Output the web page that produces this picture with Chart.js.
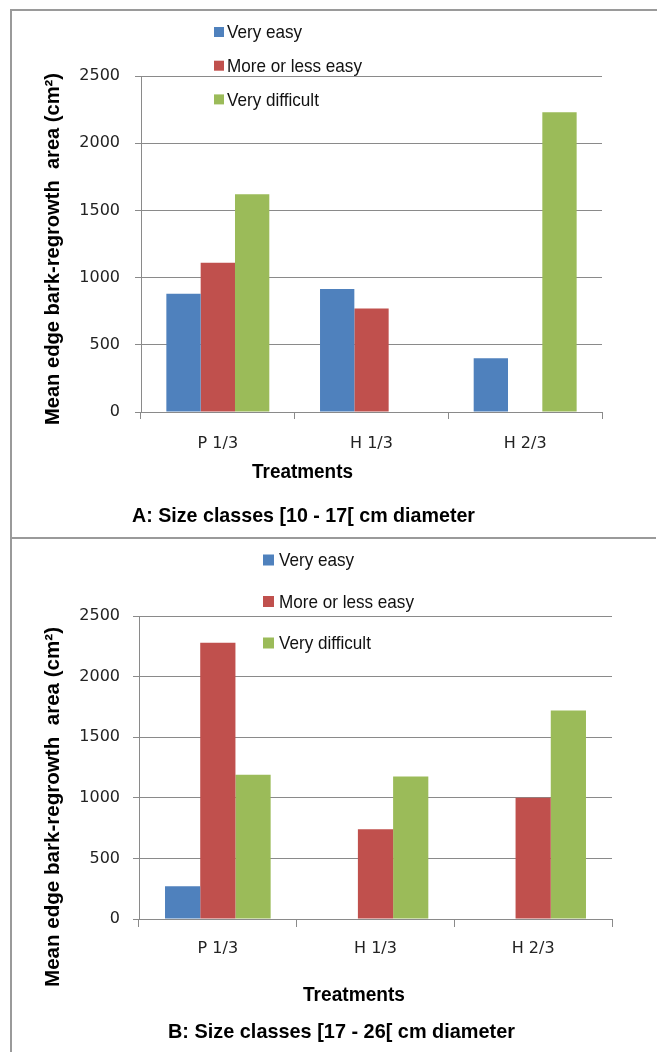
<!DOCTYPE html>
<html>
<head>
<meta charset="utf-8">
<title>Mean edge bark-regrowth area by treatment</title>
<script src="https://cdn.jsdelivr.net/npm/chart.js@4.4.0/dist/chart.umd.min.js"></script>
<style>
  html, body { margin: 0; padding: 0; background: #fff; }
  body { width: 657px; height: 1052px; position: relative; overflow: hidden; }
  canvas { position: absolute; left: 0; }
  #chartA { top: 0; }
  #chartB { top: 539px; }
  .rule { position: absolute; background: #9a9a9a; }
</style>
</head>
<body>
<canvas id="chartA" width="657" height="537"></canvas>
<canvas id="chartB" width="657" height="513"></canvas>
<div class="rule" style="left:10px;top:9px;width:2px;height:1043px"></div>
<div class="rule" style="left:10px;top:9px;width:647px;height:2px"></div>
<div class="rule" style="left:10px;top:537px;width:646px;height:2px"></div>
<script>
// Treatments on the x axis
const categories = ['P 1/3', 'H 1/3', 'H 2/3'];
// Debarking difficulty classes
const seriesNames = ['Very easy', 'More or less easy', 'Very difficult'];
const seriesColors = ['#4F81BD', '#C0504D', '#9BBB59'];
// Y axis ticks (cm²)
const yTicks = [0, 500, 1000, 1500, 2000, 2500];

// A: size classes [10 - 17[ cm diameter
const classA_veryEasy      = [880, 915, 400];
const classA_moreOrLess    = [1110, 770, null];
const classA_veryDifficult = [1620, null, 2230];

// B: size classes [17 - 26[ cm diameter
const classB_veryEasy      = [270, null, null];
const classB_moreOrLess    = [2280, 740, 1000];
const classB_veryDifficult = [1190, 1175, 1720];

const yTitle = 'Mean edge bark-regrowth  area (cm\u00B2)';
const xTitle = 'Treatments';

const GRID = '#8a8a8a';
const BOLD = 'bold 21px "Liberation Sans", Arial, sans-serif';

// Draws the vertical legend and the free-standing titles of a panel
const panelText = {
  id: 'panelText',
  afterDraw(chart, args, opts) {
    const ctx = chart.ctx;
    const lg = opts.legend;
    ctx.save();
    chart.data.datasets.forEach((ds, i) => {
      const cy = lg.y + i * lg.rowGap;
      ctx.fillStyle = ds.backgroundColor;
      ctx.fillRect(lg.x, cy - lg.box / 2, lg.box, lg.box);
      ctx.fillStyle = '#111';
      ctx.font = '19px "Liberation Sans", Arial, sans-serif';
      ctx.textAlign = 'left';
      ctx.textBaseline = 'middle';
      // slightly condensed lettering
      const w = ctx.measureText(ds.label).width * 0.9;
      ctx.fillText(ds.label, lg.x + lg.textGap, cy + 1, w);
    });
    opts.texts.forEach(t => {
      ctx.save();
      ctx.translate(t.x, t.y);
      if (t.rotate) ctx.rotate(t.rotate);
      ctx.font = t.font || BOLD;
      ctx.fillStyle = '#000';
      ctx.textAlign = 'center';
      ctx.textBaseline = 'alphabetic';
      ctx.fillText(t.text, 0, 0, t.maxWidth);
      ctx.restore();
    });
    ctx.restore();
  }
};

function makeDatasets(a, b, c) {
  return [a, b, c].map((vals, i) => ({
    label: seriesNames[i],
    data: vals,
    backgroundColor: seriesColors[i],
    borderWidth: 0,
    categoryPercentage: 0.67,
    barPercentage: 1.0
  }));
}

function makeChart(id, datasets, geo) {
  return new Chart(document.getElementById(id), {
    type: 'bar',
    data: { labels: categories, datasets },
    plugins: [panelText],
    options: {
      responsive: false,
      animation: false,
      devicePixelRatio: 1,
      layout: { padding: { left: 0, top: geo.top, right: geo.right, bottom: 0 } },
      plugins: {
        legend: { display: false },
        tooltip: { enabled: false },
        panelText: { legend: geo.legend, texts: geo.texts }
      },
      scales: {
        x: {
          afterFit: s => { s.height = geo.xHeight; },
          grid: { offset: true, drawOnChartArea: false, drawTicks: true, tickLength: geo.xTick, color: GRID },
          border: { display: true, color: GRID, width: 1 },
          ticks: { padding: geo.xPad, color: '#222', font: { family: 'DejaVu Sans', size: 16 } }
        },
        y: {
          min: yTicks[0],
          max: yTicks[yTicks.length - 1],
          afterFit: s => { s.width = geo.yWidth; },
          afterBuildTicks: s => { s.ticks = yTicks.map(v => ({ value: v })); },
          grid: { color: GRID, tickLength: 6, drawTicks: true },
          border: { display: true, color: GRID, width: 1 },
          ticks: {
            padding: geo.yPad,
            color: '#222',
            font: { family: 'DejaVu Sans', size: 16 },
            callback: v => String(v)
          }
        }
      }
    }
  });
}

makeChart('chartA', makeDatasets(classA_veryEasy, classA_moreOrLess, classA_veryDifficult), {
  top: 76, right: 55, xHeight: 125, yWidth: 141, xTick: 7, xPad: 15, yPad: 15,
  legend: { x: 214, y: 32, rowGap: 33.7, box: 10, textGap: 13 },
  texts: [
    { text: yTitle, x: 59, y: 249, rotate: -Math.PI / 2, maxWidth: 352 },
    { text: xTitle, x: 302.5, y: 478, font: 'bold 20px "Liberation Sans", Arial, sans-serif', maxWidth: 101 },
    { text: 'A: Size classes [10 - 17[ cm diameter', x: 303.5, y: 522, maxWidth: 343 }
  ]
});

makeChart('chartB', makeDatasets(classB_veryEasy, classB_moreOrLess, classB_veryDifficult), {
  top: 77, right: 45, xHeight: 133, yWidth: 139, xTick: 8, xPad: 12, yPad: 13,
  legend: { x: 263, y: 21, rowGap: 41.5, box: 11, textGap: 16 },
  texts: [
    { text: yTitle, x: 59, y: 268, rotate: -Math.PI / 2, maxWidth: 360 },
    { text: xTitle, x: 354, y: 462, font: 'bold 20px "Liberation Sans", Arial, sans-serif', maxWidth: 102 },
    { text: 'B: Size classes [17 - 26[ cm diameter', x: 341.5, y: 499, maxWidth: 347 }
  ]
});
</script>
</body>
</html>
